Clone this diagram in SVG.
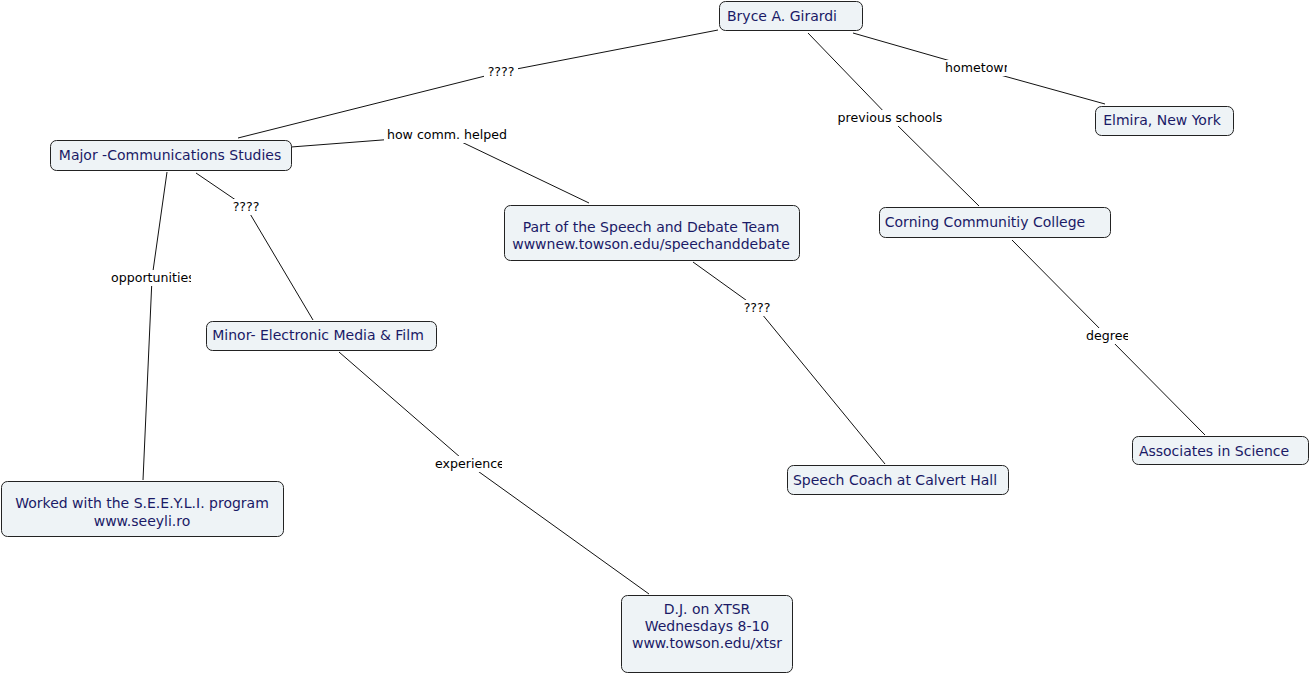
<svg xmlns="http://www.w3.org/2000/svg" width="1310" height="675" viewBox="0 0 1310 675">
<style>
.n rect{fill:#eef3f6;stroke:#222;stroke-width:1}
.n text{font-family:"DejaVu Sans",Verdana,sans-serif;font-size:14px;fill:#1a1a66;text-anchor:middle}
.c line{stroke:#111;stroke-width:1}
.l rect{fill:#fff}
.l text{font-family:"DejaVu Sans",Verdana,sans-serif;font-size:12.6px;fill:#000;text-anchor:middle}
</style>
<defs>
<clipPath id="clipHome"><rect x="940" y="58" width="67" height="20"/></clipPath>
<clipPath id="clipOpp"><rect x="105" y="268" width="86" height="20"/></clipPath>
<clipPath id="clipDeg"><rect x="1080" y="326" width="48" height="20"/></clipPath>
<clipPath id="clipExp"><rect x="430" y="454" width="72" height="20"/></clipPath>
</defs>
<rect width="1310" height="675" fill="#fff"/>
<g id="connectors" class="c">
<line x1="718" y1="30" x2="501" y2="72"/>
<line x1="501" y1="72" x2="238" y2="138"/>
<line x1="291" y1="147" x2="447" y2="135"/>
<line x1="447" y1="135" x2="589" y2="203"/>
<line x1="853" y1="33" x2="975" y2="68"/>
<line x1="975" y1="68" x2="1105" y2="104"/>
<line x1="808" y1="33" x2="890" y2="118"/>
<line x1="890" y1="118" x2="979" y2="206"/>
<line x1="167" y1="172" x2="152" y2="278"/>
<line x1="152" y1="278" x2="143" y2="480"/>
<line x1="196" y1="173" x2="246" y2="207"/>
<line x1="246" y1="207" x2="313" y2="320"/>
<line x1="693" y1="262" x2="757" y2="308"/>
<line x1="757" y1="308" x2="885" y2="464"/>
<line x1="1012" y1="240" x2="1107" y2="336"/>
<line x1="1107" y1="336" x2="1205" y2="435"/>
<line x1="339" y1="352" x2="468" y2="464"/>
<line x1="468" y1="464" x2="649" y2="594"/>
</g>
<g id="labels" class="l">
<g><rect x="484" y="64" width="34" height="16"/><text x="501" y="76">????</text></g>
<g><rect x="384" y="127" width="126" height="16"/><text x="447" y="139">how comm. helped</text></g>
<g clip-path="url(#clipHome)"><rect x="942" y="60" width="68" height="16"/><text x="945" y="72" style="text-anchor:start">hometown</text></g>
<g><rect x="834" y="110" width="112" height="16"/><text x="890" y="122">previous schools</text></g>
<g clip-path="url(#clipOpp)"><rect x="108" y="270" width="84" height="16"/><text x="111" y="282" style="text-anchor:start">opportunities</text></g>
<g><rect x="229" y="199" width="34" height="16"/><text x="246" y="211">????</text></g>
<g><rect x="740" y="300" width="34" height="16"/><text x="757" y="312">????</text></g>
<g clip-path="url(#clipDeg)"><rect x="1083" y="328" width="45" height="16"/><text x="1086" y="340" style="text-anchor:start">degree</text></g>
<g clip-path="url(#clipExp)"><rect x="432" y="456" width="70" height="16"/><text x="435" y="468" style="text-anchor:start">experience</text></g>
</g>
<g id="bryce" class="n"><rect x="719.5" y="1.5" width="143" height="29" rx="6"/><text x="782" y="21">Bryce A. Girardi</text></g>
<g id="elmira" class="n"><rect x="1095.5" y="106.5" width="138" height="29" rx="6"/><text x="1162" y="125">Elmira, New York</text></g>
<g id="major" class="n"><rect x="50.5" y="140.5" width="241" height="30" rx="6"/><text x="170" y="160">Major -Communications Studies</text></g>
<g id="speech" class="n"><rect x="504.5" y="205.5" width="295" height="55" rx="6"/><text x="651" y="232">Part of the Speech and Debate Team</text><text x="651" y="249">wwwnew.towson.edu/speechanddebate</text></g>
<g id="corning" class="n"><rect x="879.5" y="207.5" width="231" height="30" rx="6"/><text x="985" y="227">Corning Communitiy College</text></g>
<g id="minor" class="n"><rect x="206.5" y="321.5" width="230" height="29" rx="6"/><text x="318" y="340">Minor- Electronic Media &amp; Film</text></g>
<g id="associates" class="n"><rect x="1132.5" y="436.5" width="176" height="28" rx="6"/><text x="1214" y="456">Associates in Science</text></g>
<g id="coach" class="n"><rect x="787.5" y="465.5" width="221" height="29" rx="6"/><text x="895" y="485">Speech Coach at Calvert Hall</text></g>
<g id="seeyli" class="n"><rect x="1.5" y="481.5" width="282" height="55" rx="6"/><text x="142" y="508">Worked with the S.E.E.Y.L.I. program</text><text x="142" y="526">www.seeyli.ro</text></g>
<g id="dj" class="n"><rect x="621.5" y="595.5" width="171" height="77" rx="6"/><text x="707" y="614">D.J. on XTSR</text><text x="707" y="631">Wednesdays 8-10</text><text x="707" y="648">www.towson.edu/xtsr</text></g>
</svg>
